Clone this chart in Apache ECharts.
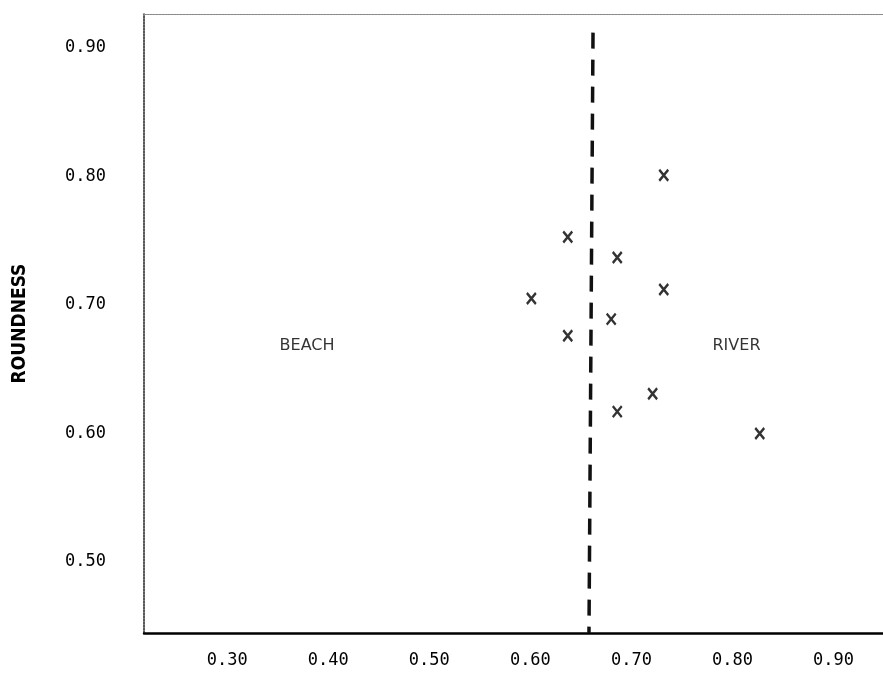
<!DOCTYPE html>
<html>
<head>
<meta charset="utf-8">
<script src="https://cdn.jsdelivr.net/npm/echarts@6/dist/echarts.min.js"></script>
<style>
  html, body { margin: 0; padding: 0; background: #fff; }
  #chart { width: 883px; height: 692px; }
</style>
</head>
<body>
<div id="chart"></div>
<script>
const xValues = [0.732, 0.637, 0.686, 0.732, 0.601, 0.680, 0.637, 0.721, 0.686, 0.827];
const yValues = [0.801, 0.753, 0.737, 0.712, 0.705, 0.689, 0.676, 0.631, 0.617, 0.600];
const xTicks = [0.30, 0.40, 0.50, 0.60, 0.70, 0.80, 0.90];
const yTicks = [0.50, 0.60, 0.70, 0.80, 0.90];
// dividing line: top and bottom ends
const dividerX = [0.662, 0.658];
const dividerY = [0.912, 0.4447];
const regionNames = ['BEACH', 'RIVER'];
const regionX = [0.379, 0.804];
const regionY = [0.668, 0.668];

const points = xValues.map((x, i) => [x, yValues[i]]);
const labelFont = 'DejaVu Sans Mono';

const chart = echarts.init(document.getElementById('chart'));
chart.setOption({
  animation: false,
  backgroundColor: '#fff',
  grid: { left: 144, right: 0, top: 14, bottom: 59, outerBoundsMode: 'none', containLabel: false },
  xAxis: [{
    type: 'value',
    min: 0.2176,
    max: 0.949,
    splitLine: { show: false },
    axisTick: { show: false },
    axisLine: { show: true, lineStyle: { color: '#000', width: 2.5, type: [3, 1] } },
    axisLabel: {
      customValues: xTicks,
      formatter: v => v.toFixed(2),
      margin: 19,
      color: '#000',
      fontFamily: labelFont,
      fontSize: 17
    }
  }, {
    type: 'value',
    position: 'top',
    min: 0.2176,
    max: 0.949,
    splitLine: { show: false },
    axisTick: { show: false },
    axisLabel: { show: false },
    axisLine: { show: true, lineStyle: { color: '#888', width: 1.2, type: [2, 1] } }
  }],
  yAxis: {
    type: 'value',
    min: 0.4447,
    max: 0.9265,
    name: 'ROUNDNESS',
    nameLocation: 'middle',
    nameRotate: 90,
    nameGap: 114,
    nameTextStyle: {
      color: '#000',
      fontFamily: 'DejaVu Sans Condensed',
      fontWeight: 'bold',
      fontSize: 19
    },
    splitLine: { show: false },
    axisTick: { show: false },
    axisLine: { show: true, lineStyle: { color: '#222', width: 1.5, type: [2, 1] } },
    axisLabel: {
      customValues: yTicks,
      formatter: v => v.toFixed(2),
      margin: 38,
      color: '#000',
      fontFamily: labelFont,
      fontSize: 17
    }
  },
  series: [{
    type: 'scatter',
    data: points,
    symbol: 'path://M0,0L10,12M10,0L0,12',
    symbolSize: [9, 11],
    itemStyle: { color: 'none', borderColor: '#000', borderWidth: 2.5 },
    markLine: {
      silent: true,
      symbol: 'none',
      label: { show: false },
      lineStyle: { color: '#111', width: 3.5, type: [16, 11] },
      data: [[
        { coord: [dividerX[0], dividerY[0]] },
        { coord: [dividerX[1], dividerY[1]] }
      ]]
    }
  }, {
    type: 'scatter',
    data: regionNames.map((n, i) => ({ value: [regionX[i], regionY[i]], name: n })),
    symbolSize: 0,
    label: {
      show: true,
      position: 'inside',
      formatter: p => p.name,
      color: '#000',
      fontFamily: 'DejaVu Sans',
      fontSize: 16
    }
  }]
});
</script>
</body>
</html>
